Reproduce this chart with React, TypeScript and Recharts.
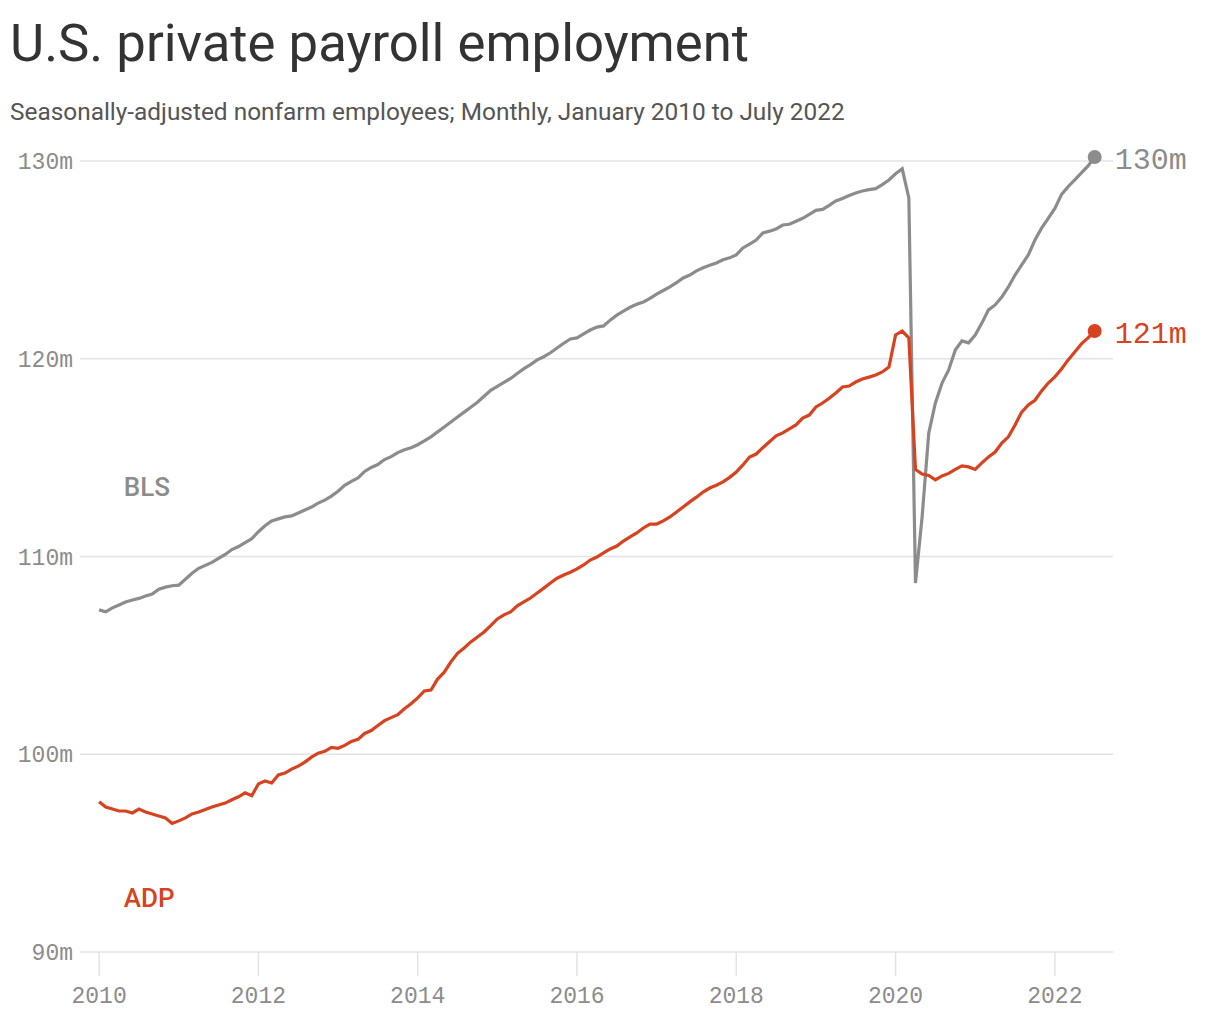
import { LineChart, Line, XAxis, YAxis, ReferenceLine, ReferenceDot } from "recharts";

// Monthly, Jan 2010 .. Jul 2022 (millions)
const START_YEAR = 2010;

const BLS = [
  107.3, 107.2, 107.4, 107.55, 107.7, 107.8, 107.88, 108.0, 108.1, 108.35, 108.45, 108.52,
  108.55, 108.85, 109.15, 109.4, 109.55, 109.7, 109.9, 110.1, 110.35, 110.5, 110.7, 110.9,
  111.25, 111.55, 111.8, 111.9, 112.0, 112.05, 112.2, 112.35, 112.5, 112.7, 112.85, 113.05,
  113.3, 113.6, 113.8, 113.97, 114.3, 114.5, 114.65, 114.9, 115.05, 115.25, 115.4, 115.5,
  115.65, 115.84, 116.05, 116.3, 116.55, 116.8, 117.05, 117.3, 117.55, 117.8, 118.1, 118.4,
  118.6, 118.8, 119.0, 119.25, 119.5, 119.7, 119.94, 120.1, 120.3, 120.54, 120.78, 121.0,
  121.05, 121.25, 121.45, 121.6, 121.66, 121.95, 122.2, 122.4, 122.6, 122.75, 122.87, 123.05,
  123.27, 123.45, 123.63, 123.85, 124.08, 124.23, 124.44, 124.6, 124.72, 124.84, 125.0, 125.1,
  125.25, 125.6, 125.8, 126.0, 126.36, 126.45, 126.56, 126.76, 126.8, 126.95, 127.1, 127.3,
  127.5, 127.55, 127.75, 127.98, 128.1, 128.25, 128.38, 128.48, 128.55, 128.6, 128.8, 129.04,
  129.35, 129.6, 128.13, 108.66, 112.0, 116.24, 117.76, 118.77, 119.43, 120.44, 120.9, 120.8,
  121.2, 121.8, 122.47, 122.72, 123.12, 123.63, 124.23, 124.74, 125.25, 126.0, 126.6, 127.1,
  127.6, 128.3, 128.7, 129.04, 129.4, 129.75, 130.2,
];

const ADP = [
  97.6, 97.33, 97.23, 97.13, 97.13, 97.03, 97.23, 97.08, 96.98, 96.88, 96.78, 96.5,
  96.63, 96.78, 96.98, 97.08, 97.2, 97.33, 97.43, 97.53, 97.7, 97.85, 98.05, 97.9,
  98.5, 98.65, 98.55, 98.95, 99.05, 99.25, 99.4, 99.6, 99.85, 100.05, 100.15, 100.35,
  100.3, 100.45, 100.65, 100.75, 101.05, 101.2, 101.45, 101.7, 101.85, 102.0, 102.3, 102.55,
  102.85, 103.2, 103.25, 103.8, 104.15, 104.67, 105.1, 105.37, 105.68, 105.93, 106.18, 106.5,
  106.84, 107.05, 107.2, 107.5, 107.7, 107.9, 108.15, 108.4, 108.66, 108.9, 109.06, 109.2,
  109.37, 109.57, 109.82, 109.97, 110.18, 110.38, 110.53, 110.78, 110.99, 111.19, 111.44, 111.64,
  111.64, 111.8, 112.0, 112.25, 112.5, 112.76, 113.0, 113.26, 113.46, 113.6, 113.77, 114.0,
  114.27, 114.63, 115.03, 115.18, 115.5, 115.8, 116.1, 116.25, 116.45, 116.65, 117.0, 117.15,
  117.56, 117.76, 118.0, 118.27, 118.57, 118.62, 118.82, 118.97, 119.07, 119.18, 119.33, 119.58,
  121.2, 121.4, 121.05, 114.4, 114.17, 114.1, 113.87, 114.07, 114.2, 114.4, 114.58, 114.53,
  114.4, 114.73, 115.03, 115.28, 115.74, 116.05, 116.65, 117.3, 117.66, 117.9, 118.37, 118.77,
  119.08, 119.48, 119.94, 120.34, 120.75, 121.05, 121.4,
];

const X_TICKS = [2010, 2012, 2014, 2016, 2018, 2020, 2022];
const Y_TICKS = [90, 100, 110, 120, 130];

const GRAY = "#8c8c8c";
const RED = "#d7421f";
const GRID = "#e3e3e3";
const MONO = "'Liberation Mono', 'DejaVu Sans Mono', monospace";
const SANS = "Roboto, 'Noto Sans', sans-serif";

const data = BLS.map((v, i) => ({
  t: START_YEAR + i / 12,
  bls: v,
  adp: ADP[i],
}));

const last = data.length - 1;

const endDot = (color: string) => (props: any) => {
  const { cx, cy, index, value } = props;
  if (index !== last) return <g key={`d-${index}`} />;
  return (
    <g key={`d-${index}`}>
      <circle cx={cx} cy={cy} r={7} fill={color} />
      <text
        x={cx + 20}
        y={cy + 4}
        dominantBaseline="middle"
        fontFamily={MONO}
        fontSize={30}
        fill={color}
      >
        {`${Math.round(value)}m`}
      </text>
    </g>
  );
};

const seriesLabel = (text: string, color: string) => (props: any) => {
  const { viewBox } = props;
  return (
    <text
      x={viewBox.x}
      y={viewBox.y}
      dominantBaseline="middle"
      fontFamily={SANS}
      fontSize={26}
      fontWeight={500}
      fill={color}
    >
      {text}
    </text>
  );
};

export default function App() {
  return (
    <div
      style={{
        position: "absolute",
        left: 0,
        top: 0,
        width: 1220,
        height: 1020,
        background: "#fff",
        fontFamily: SANS,
      }}
    >
      <div
        style={{
          position: "absolute",
          left: 10,
          top: 17,
          fontSize: 52.7,
          lineHeight: 1,
          color: "#333",
          whiteSpace: "nowrap",
        }}
      >
        U.S. private payroll employment
      </div>
      <div
        style={{
          position: "absolute",
          left: 10,
          top: 100,
          fontSize: 24.4,
          lineHeight: 1,
          color: "#555",
          whiteSpace: "nowrap",
        }}
      >
        Seasonally-adjusted nonfarm employees; Monthly, January 2010 to July 2022
      </div>
      <div style={{ position: "absolute", left: 0, top: 0 }}>
        <LineChart
          width={1220}
          height={1020}
          data={data}
          margin={{ top: 156, right: 107, bottom: 18, left: 0 }}
        >
          {Y_TICKS.map((v) => (
            <ReferenceLine key={v} y={v} stroke={GRID} strokeWidth={1.5} />
          ))}
          <XAxis
            dataKey="t"
            type="number"
            domain={[2009.76, 2022.73]}
            ticks={X_TICKS}
            axisLine={false}
            tickLine={{ stroke: GRID, strokeWidth: 1.5 }}
            tickSize={24}
            tickMargin={11}
            height={50}
            tick={{ fontFamily: MONO, fontSize: 23, fill: GRAY }}
          />
          <YAxis
            type="number"
            domain={[90, 130.25]}
            ticks={Y_TICKS}
            width={80}
            axisLine={false}
            tickLine={false}
            tickMargin={1}
            tickFormatter={(v: number) => `${v}m`}
            tick={{ fontFamily: MONO, fontSize: 23, fill: GRAY }}
          />
          <Line
            type="linear"
            dataKey="bls"
            stroke={GRAY}
            strokeWidth={3.2}
            dot={endDot(GRAY)}
            activeDot={false}
            isAnimationActive={false}
          />
          <Line
            type="linear"
            dataKey="adp"
            stroke={RED}
            strokeWidth={3.2}
            dot={endDot(RED)}
            activeDot={false}
            isAnimationActive={false}
          />
          <ReferenceDot
            x={2010.31}
            y={113.4}
            r={0}
            ifOverflow="visible"
            label={seriesLabel("BLS", GRAY)}
          />
          <ReferenceDot
            x={2010.31}
            y={92.6}
            r={0}
            ifOverflow="visible"
            label={seriesLabel("ADP", RED)}
          />
        </LineChart>
      </div>
    </div>
  );
}
